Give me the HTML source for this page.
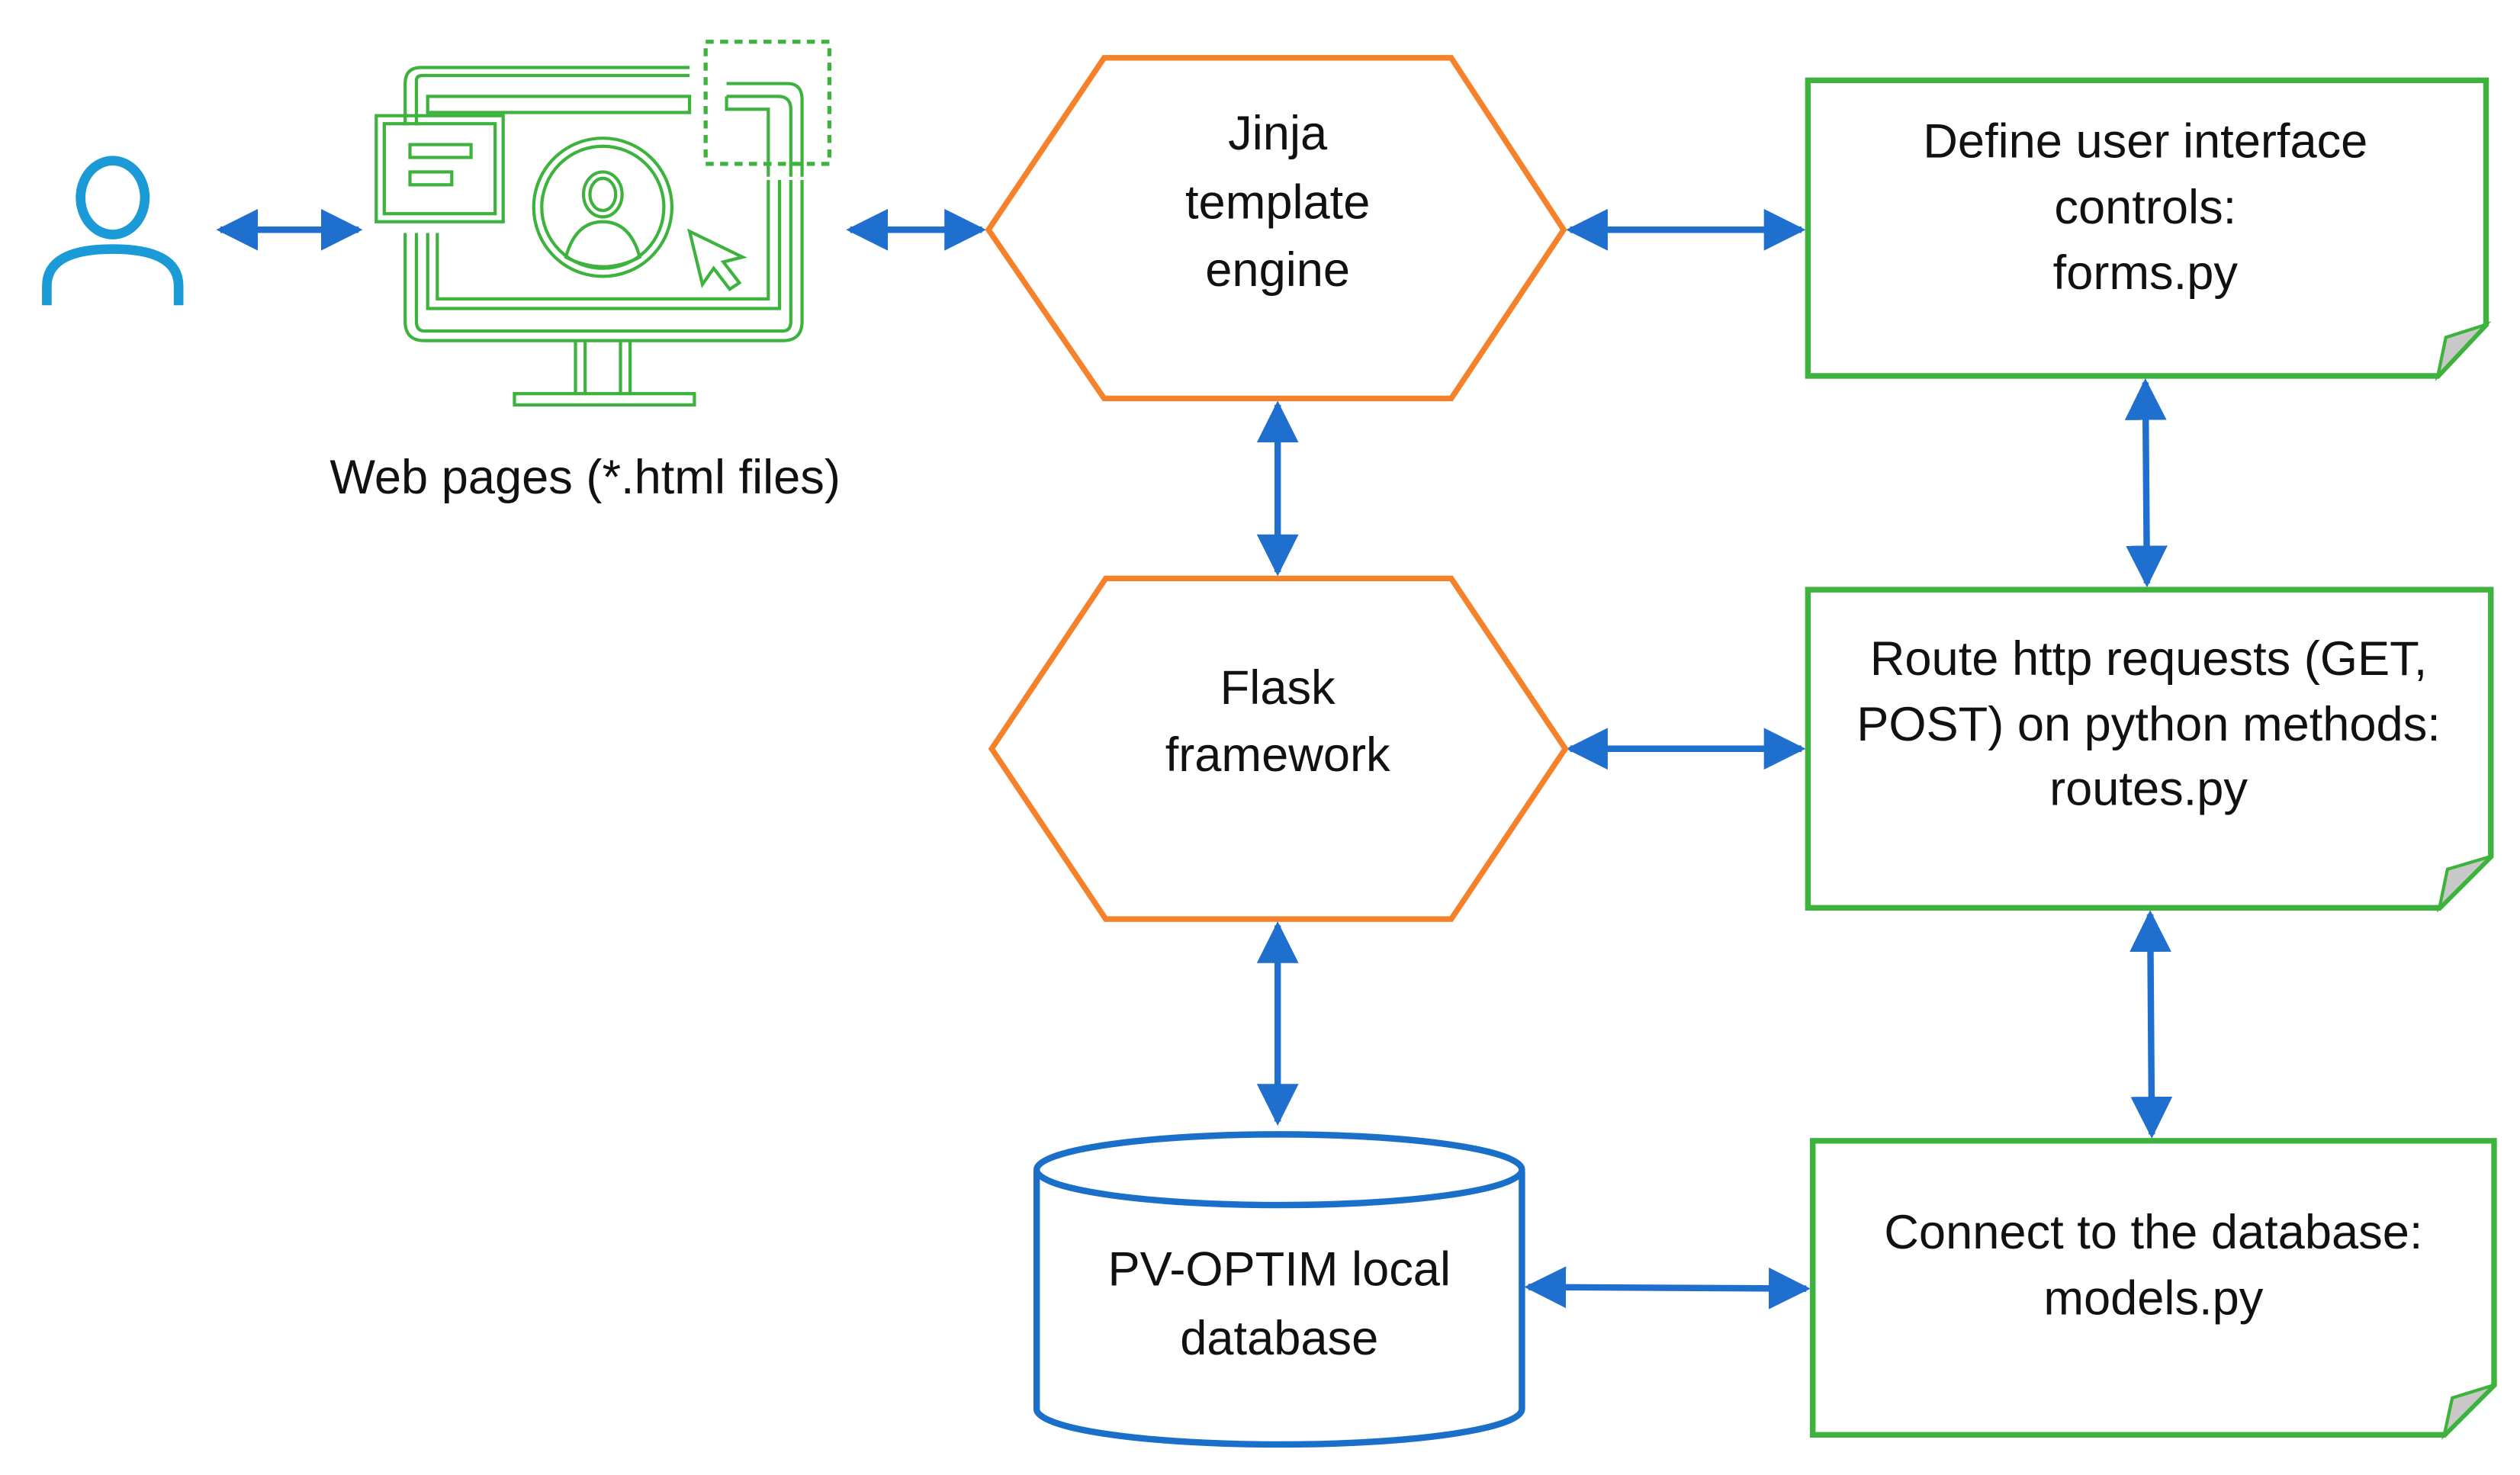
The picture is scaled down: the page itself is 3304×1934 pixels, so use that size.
<!DOCTYPE html>
<html><head><meta charset="utf-8"><style>
html,body{margin:0;padding:0;background:#fff}
svg{display:block}
text{font-family:"Liberation Sans",sans-serif;font-size:30px;fill:#111;text-anchor:middle}
</style></head><body>
<svg width="3304" height="1934" viewBox="0 0 1568 918" xmlns="http://www.w3.org/2000/svg">
<defs>
<marker id="ah" viewBox="0 0 10 10" refX="9" refY="5" markerWidth="6.5" markerHeight="6.5" markerUnits="strokeWidth" orient="auto-start-reverse">
<path d="M0,0 L10,5 L0,10 z" fill="#1f6fcf"/></marker>
</defs>
<g stroke="#1f6fcf" stroke-width="4" fill="none" marker-start="url(#ah)" marker-end="url(#ah)">
<line x1="137" y1="143" x2="223" y2="143"/>
<line x1="529" y1="143" x2="611" y2="143"/>
<line x1="977" y1="143" x2="1121" y2="143"/>
<line x1="1335" y1="238" x2="1336" y2="363"/>
<line x1="977" y1="466" x2="1121" y2="466"/>
<line x1="795" y1="252" x2="795" y2="356"/>
<line x1="795" y1="576" x2="795" y2="698"/>
<line x1="1338" y1="569" x2="1339" y2="706"/>
<line x1="951" y1="801" x2="1124" y2="802"/>
</g>
<!-- person -->
<g stroke="#1a9ad6" stroke-width="6" fill="none">
<ellipse cx="70" cy="123" rx="20" ry="23"/>
<path d="M29,190 V178 Q29,155 70,155 Q111,155 111,178 V190"/>
</g>
<!-- monitor -->
<g stroke="#3db23d" stroke-width="2" fill="none">
<path d="M252,78 V52 Q252,42 262,42 H429"/>
<path d="M259,78 V50 Q259,47 263,47 H429"/>
<path d="M266,60 H429 V70 H266 z"/>
<path d="M452,52 H490 Q499,52 499,62 V110"/>
<path d="M452,60 H484 Q492,60 492,68 V110"/>
<path d="M452,60 V68 H478 V110"/>
<path d="M252,145 V200 Q252,212 264,212 H487 Q499,212 499,200 V112"/>
<path d="M259,145 V200 Q259,206 264,206 H487 Q492,206 492,200 V112"/>
<path d="M266,145 V192 H485 V112"/>
<path d="M272,145 V186 H478 V112"/>
<rect x="234" y="72" width="79" height="66"/>
<rect x="239" y="77" width="69" height="56"/>
<rect x="255" y="90" width="38" height="8"/>
<rect x="255" y="107" width="26" height="8"/>
<circle cx="375" cy="129" r="43"/>
<circle cx="375" cy="129" r="38"/>
<ellipse cx="375" cy="121" rx="12" ry="14"/>
<ellipse cx="375" cy="121" rx="8" ry="10"/>
<path d="M352,160 Q358,138 375,138 Q392,138 398,160 Q375,172 352,160 z"/>
<path d="M429,144 L462,160 L450,163 L460,176 L454,180 L444,167 L437,177 z"/>
<path d="M358,212 V245 M392,212 V245 M364,212 V245 M386,212 V245"/>
<rect x="320" y="245" width="112" height="7"/>
</g>
<g stroke="#3db23d" stroke-width="2.5" fill="none" stroke-dasharray="5,4">
<rect x="439" y="26" width="77" height="76"/>
</g>
<text x="364" y="307" font-size="31">Web pages (*.html files)</text>
<!-- hexagons -->
<g stroke="#f5822a" stroke-width="3.5" fill="#fff">
<path d="M615,143 L687,36 L903,36 L973,143 L903,248 L687,248 z"/>
<path d="M617,466 L688,360 L903,360 L974,466 L903,572 L688,572 z"/>
</g>
<text x="795" y="93">Jinja</text><text x="795" y="136">template</text><text x="795" y="178">engine</text>
<text x="795" y="438">Flask</text><text x="795" y="480">framework</text>
<!-- boxes -->
<g stroke="#3db23d" stroke-width="3.5" fill="#fff">
<path d="M1125,50 H1547 V202 L1517,234 H1125 z"/>
<path d="M1125,367 H1550 V533 L1518,565 H1125 z"/>
<path d="M1128,710 H1552 V862 L1521,893 H1128 z"/>
</g>
<g fill="#c8c8c8" stroke="#3db23d" stroke-width="2">
<path d="M1517,234 L1522,210 L1547,202 z"/>
<path d="M1518,565 L1523,541 L1550,533 z"/>
<path d="M1521,893 L1526,870 L1552,862 z"/>
</g>
<text x="1335" y="98">Define user interface</text><text x="1335" y="139">controls:</text><text x="1335" y="180">forms.py</text>
<text x="1337" y="420">Route http requests (GET,</text><text x="1337" y="461">POST) on python methods:</text><text x="1337" y="501">routes.py</text>
<text x="1340" y="777">Connect to the database:</text><text x="1340" y="818">models.py</text>
<!-- cylinder -->
<g stroke="#1a6fc9" stroke-width="4" fill="#fff">
<path d="M645,729 V877 A151,22 0 0 0 947,877 V729"/>
<ellipse cx="796" cy="728" rx="151" ry="22"/>
</g>
<text x="796" y="800">PV-OPTIM local</text><text x="796" y="843">database</text>
</svg>
</body></html>
